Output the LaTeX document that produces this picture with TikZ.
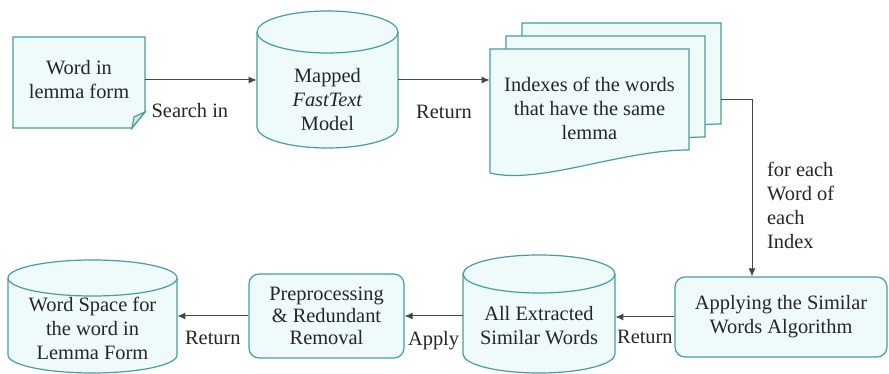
\documentclass[tikz,border=0pt]{standalone}
\usepackage{fontspec}
\newfontfamily\timesfont{Liberation Serif}
\usetikzlibrary{arrows.meta}
\definecolor{edgecol}{RGB}{72,158,158}
\definecolor{shapefill}{RGB}{239,250,250}
\definecolor{linecol}{RGB}{70,70,70}
% database drum: left x, right x, top centre y, bottom centre y, x radius, y radius
\newcommand\dbcyl[6]{%
  \draw[outline] (#1,#3) -- (#1,#4) arc[start angle=180,end angle=360,x radius=#5,y radius=#6]
    -- (#2,#3) arc[start angle=0,end angle=180,x radius=#5,y radius=#6] -- cycle;
  \draw[outline,fill=none] (#1,#3) arc[start angle=180,end angle=360,x radius=#5,y radius=#6];}

\begin{document}
\begin{tikzpicture}[x=0.5pt,y=0.5pt,font=\timesfont\fontsize{10.2}{12}\selectfont]
  \tikzset{txt/.style = {align=center, inner sep=0pt, text=black!85}}
  \tikzset{proc/.style = {shape=rectangle, draw=edgecol, fill=shapefill, rounded corners=5pt, line width=0.6pt, align=center, inner sep=0pt, text=black!85}}
  \tikzset{outline/.style = {draw=edgecol, fill=shapefill, line width=0.6pt}}
  \tikzset{flow/.style = {-{Latex[length=4pt,width=3.5pt]}, draw=linecol, line width=0.5pt}}
  \tikzset{lbl/.style = {text=black!85}}
  \useasboundingbox (0,0) rectangle (889,374);

  % outlines behind the texts
  \draw[outline] (13,337) -- (145,337) -- (145,262) -- (132,246) -- (13,246) -- cycle;
  \draw[outline, fill=edgecol!25] (132,246) -- (145,262) -- (134,257) -- cycle;
  \foreach \s in {2,1,0}
    \draw[outline, shift={(\s*16,\s*13)}] (490,325) -- (689,325) -- (689,224)
      .. controls (620,224) and (540,189) .. (490,201) -- cycle;
  \dbcyl{257}{398}{342}{247}{35.25pt}{10.5pt}
  \dbcyl{463}{615}{100}{20}{38pt}{9.5pt}
  \dbcyl{8}{177}{96}{19}{42.25pt}{9pt}

  \node[txt, minimum width=66pt] (word) at (79,294) {Word in\\lemma form};
  \node[txt, minimum width=70.5pt] (model) at (327.5,274) {Mapped\\\textit{FastText}\\Model};
  \node[txt, minimum width=99.5pt] (index) at (589.5,266) {Indexes of the words\\that have the same\\lemma};
  \node[proc, minimum width=106pt, minimum height=40pt] (apply) at (781,57) {Applying the Similar\\Words Algorithm};
  \node[txt, minimum width=76pt] (ext) at (539,48) {All Extracted\\Similar Words};
  \node[proc, minimum width=77.5pt, minimum height=42pt, font=\timesfont\fontsize{10.2}{11}\selectfont] (prep) at (326.5,58) {Preprocessing\\\& Redundant\\Removal};
  \node[txt, minimum width=84.5pt] (space) at (92.5,45.5) {Word Space for\\the word in\\Lemma Form};

  \draw[flow] (word.east) -- node[lbl, pos=0.4, below=8pt] {Search in} (word.east -| model.west);
  \draw[flow] (model.east |- word.east) -- node[lbl, below=9pt] {Return} (index.west |- word.east);
  \draw[flow] ([xshift=16pt,yshift=4pt]index.east) -| node[lbl, pos=0.8, right=4pt, align=left] {for each\\Word of\\each\\Index} ([xshift=-14.5pt]apply.north);
  \draw[flow] (apply.west) -- node[lbl, below=3pt] {Return} (apply.west -| ext.east);
  \draw[flow] (ext.west |- prep.east) -- node[lbl, below=4pt] {Apply} (prep.east);
  \draw[flow] (prep.west) -- node[lbl, below=4pt] {Return} (prep.west -| space.east);
\end{tikzpicture}
\end{document}
